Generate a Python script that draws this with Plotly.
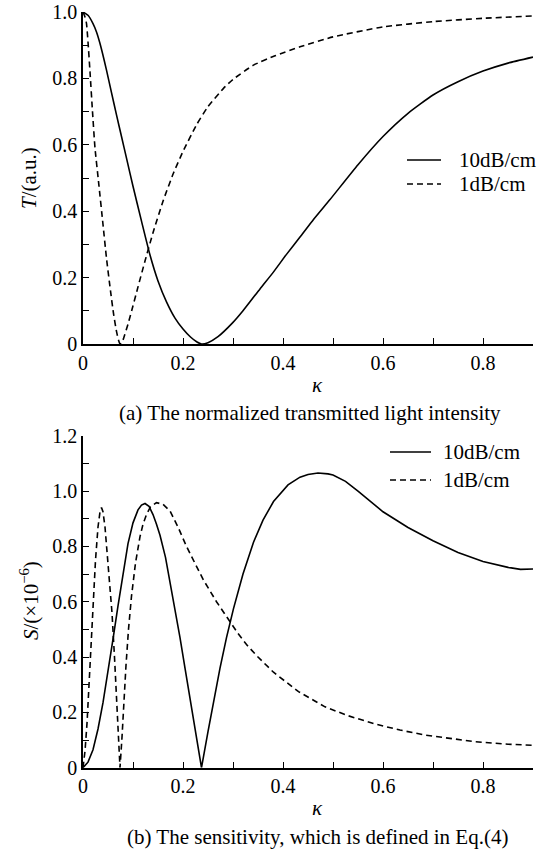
import plotly.graph_objects as go

# ---- data ----
kT_solid = [0, 0.01, 0.02, 0.027, 0.034, 0.047, 0.057, 0.067, 0.077, 0.087, 0.1, 0.117, 0.134, 0.15, 0.167, 0.184,
            0.2, 0.215, 0.228, 0.237, 0.25, 0.27, 0.3, 0.32, 0.354, 0.38, 0.407, 0.434, 0.461, 0.494, 0.55, 0.6,
            0.65, 0.7, 0.75, 0.8, 0.85, 0.9]
T_solid = [1.0, 0.99, 0.965, 0.94, 0.905, 0.825, 0.757, 0.69, 0.625, 0.56, 0.475, 0.37, 0.268, 0.19, 0.127, 0.078,
           0.045, 0.021, 0.006, 0.0, 0.004, 0.022, 0.065, 0.1, 0.166, 0.215, 0.27, 0.322, 0.375, 0.435, 0.54, 0.625,
           0.695, 0.75, 0.79, 0.822, 0.846, 0.864]

kT_dash = [0, 0.004, 0.007, 0.01, 0.014, 0.019, 0.024, 0.031, 0.04, 0.047, 0.055, 0.061, 0.067, 0.071, 0.074,
           0.077, 0.08, 0.09, 0.1, 0.11, 0.124, 0.14, 0.16, 0.181, 0.2, 0.227, 0.25, 0.281, 0.3, 0.341, 0.384,
           0.434, 0.5, 0.6, 0.7, 0.8, 0.9]
T_dash = [1.0, 0.985, 0.965, 0.91, 0.82, 0.70, 0.59, 0.49, 0.36, 0.258, 0.16, 0.092, 0.038, 0.012, 0.0,
          0.003, 0.012, 0.06, 0.115, 0.172, 0.25, 0.335, 0.43, 0.515, 0.58, 0.66, 0.715, 0.77, 0.797, 0.84, 0.868,
          0.895, 0.925, 0.955, 0.971, 0.981, 0.988]

kS_solid = [0, 0.01, 0.02, 0.03, 0.04, 0.05, 0.06, 0.07, 0.08, 0.09, 0.1, 0.11, 0.117, 0.124, 0.132, 0.14, 0.147,
            0.154, 0.165, 0.175, 0.185, 0.194, 0.204, 0.214, 0.225, 0.237, 0.25, 0.261, 0.274, 0.287, 0.301, 0.32,
            0.341, 0.36, 0.381, 0.41, 0.434, 0.45, 0.47, 0.49, 0.5, 0.525, 0.55, 0.6, 0.65, 0.7, 0.75, 0.8, 0.85,
            0.875, 0.9]
S_solid = [0, 0.02, 0.065, 0.14, 0.235, 0.345, 0.465, 0.585, 0.705, 0.81, 0.885, 0.932, 0.949, 0.955, 0.945, 0.915,
           0.88, 0.84, 0.76, 0.665, 0.565, 0.47, 0.36, 0.25, 0.13, 0.0, 0.13, 0.24, 0.36, 0.47, 0.575, 0.7,
           0.815, 0.895, 0.962, 1.022, 1.05, 1.06, 1.065, 1.062, 1.058, 1.035, 1.0, 0.925, 0.868, 0.82, 0.778, 0.745,
           0.724, 0.717, 0.718]

kS_dash = [0, 0.004, 0.008, 0.012, 0.016, 0.02, 0.025, 0.03, 0.034, 0.037, 0.04, 0.044, 0.048, 0.053, 0.058,
           0.063, 0.068, 0.071, 0.074, 0.078, 0.081, 0.086, 0.091, 0.097, 0.105, 0.114, 0.12, 0.127, 0.135, 0.147,
           0.16, 0.174, 0.19, 0.207, 0.225, 0.241, 0.267, 0.287, 0.31, 0.327, 0.35, 0.381, 0.431, 0.484, 0.53,
           0.584, 0.634, 0.684, 0.734, 0.784, 0.85, 0.9]
S_dash = [0, 0.06, 0.16, 0.3, 0.45, 0.6, 0.75, 0.87, 0.925, 0.94, 0.925, 0.87, 0.79, 0.67, 0.56,
          0.4, 0.22, 0.12, 0.0, 0.11, 0.22, 0.37, 0.5, 0.62, 0.74, 0.835, 0.88, 0.915, 0.943, 0.958,
          0.952, 0.928, 0.87, 0.8, 0.735, 0.678, 0.6, 0.545, 0.485, 0.445, 0.4, 0.345, 0.275, 0.22, 0.188,
          0.158, 0.136, 0.118, 0.105, 0.094, 0.085, 0.081]

series_names = ["10dB/cm", "1dB/cm"]
x_ticks = [0, 0.2, 0.4, 0.6, 0.8]
x_ticktext = ["0", "0.2", "0.4", "0.6", "0.8"]
yT_ticks = [0, 0.2, 0.4, 0.6, 0.8, 1.0]
yT_ticktext = ["0", "0.2", "0.4", "0.6", "0.8", "1.0"]
yS_ticks = [0, 0.2, 0.4, 0.6, 0.8, 1.0, 1.2]
yS_ticktext = ["0", "0.2", "0.4", "0.6", "0.8", "1.0", "1.2"]

W, H = 550, 854
FONT = "Liberation Serif"
LW = 1.6
DASH = "6px,4px"

fig = go.Figure()
fig.add_trace(go.Scatter(x=kT_solid, y=T_solid, mode="lines", name=series_names[0],
                         line=dict(color="black", width=LW, shape="spline", smoothing=0.5),
                         xaxis="x", yaxis="y"))
fig.add_trace(go.Scatter(x=kT_dash, y=T_dash, mode="lines", name=series_names[1],
                         line=dict(color="black", width=LW, dash=DASH, shape="spline", smoothing=0.5),
                         xaxis="x", yaxis="y"))
fig.add_trace(go.Scatter(x=kS_solid, y=S_solid, mode="lines", name=series_names[0],
                         line=dict(color="black", width=LW),
                         xaxis="x2", yaxis="y2"))
fig.add_trace(go.Scatter(x=kS_dash, y=S_dash, mode="lines", name=series_names[1],
                         line=dict(color="black", width=LW, dash=DASH),
                         xaxis="x2", yaxis="y2"))


def px_x(p):
    return p / W


def px_y(p):
    return 1 - p / H


axis_common = dict(showline=True, linecolor="black", linewidth=1.5, ticks="inside", ticklen=6,
                   tickwidth=1.3, tickcolor="black", showgrid=False, zeroline=False, automargin=False,
                   tickfont=dict(family=FONT, size=20, color="black"))
minor = dict(ticks="inside", ticklen=6, tickwidth=1.3, tickcolor="black", dtick=0.1, tick0=0, showgrid=False)

xdom = [px_x(83), px_x(533)]
fig.update_layout(
    width=W, height=H, margin=dict(l=0, r=0, t=0, b=0, autoexpand=False),
    paper_bgcolor="white", plot_bgcolor="white", showlegend=False,
    font=dict(family=FONT, size=21, color="black"),
    xaxis=dict(domain=xdom, range=[0, 0.9], anchor="y", tickvals=x_ticks, ticktext=x_ticktext,
               minor=minor, **axis_common),
    yaxis=dict(domain=[px_y(344), px_y(12)], range=[0, 1.0], anchor="x", tickvals=yT_ticks,
               ticktext=yT_ticktext, minor=minor, **axis_common),
    xaxis2=dict(domain=xdom, range=[0, 0.9], anchor="y2", tickvals=x_ticks, ticktext=x_ticktext,
                minor=minor, **axis_common),
    yaxis2=dict(domain=[px_y(767.7), px_y(435.7)], range=[0, 1.2], anchor="x2", tickvals=yS_ticks,
                ticktext=yS_ticktext, minor=minor, **axis_common),
)

# legend keys (drawn in paper coordinates)
legend_rows = [
    # (line x0, line x1, y, dash, label, text x)
    (407, 441, 160, "solid", series_names[0], 457),
    (407, 441, 184, "dash", series_names[1], 457),
    (390, 431, 452, "solid", series_names[0], 441),
    (390, 431, 480, "dash", series_names[1], 441),
]
shapes = []
ann = []
for x0, x1, yy, dsh, lab, tx in legend_rows:
    shapes.append(dict(type="line", xref="paper", yref="paper", x0=px_x(x0), x1=px_x(x1), y0=px_y(yy),
                       y1=px_y(yy), line=dict(color="black", width=LW, dash=DASH if dsh == "dash" else "solid")))
    ann.append(dict(text=lab, x=px_x(tx), y=px_y(yy), xref="paper", yref="paper", showarrow=False,
                    font=dict(family=FONT, size=21), xanchor="left", yanchor="middle"))

ann += [
    dict(text="<i>κ</i>", x=px_x(317), y=px_y(385), xref="paper", yref="paper", showarrow=False,
         font=dict(family=FONT, size=21), xanchor="center", yanchor="middle"),
    dict(text="<i>κ</i>", x=px_x(317), y=px_y(808), xref="paper", yref="paper", showarrow=False,
         font=dict(family=FONT, size=21), xanchor="center", yanchor="middle"),
    dict(text="(a) The normalized transmitted light intensity", x=px_x(310), y=px_y(413), xref="paper",
         yref="paper", showarrow=False, font=dict(family=FONT, size=21), xanchor="center", yanchor="middle"),
    dict(text="(b) The sensitivity, which is defined in Eq.(4)", x=px_x(317), y=px_y(837), xref="paper",
         yref="paper", showarrow=False, font=dict(family=FONT, size=21), xanchor="center", yanchor="middle"),
    dict(text="<i>T</i>/(a.u.)", x=px_x(29), y=px_y(178), xref="paper", yref="paper", showarrow=False,
         textangle=-90, font=dict(family=FONT, size=21), xanchor="center", yanchor="middle"),
    dict(text="<i>S</i>/(×10<sup>−6</sup>)", x=px_x(29), y=px_y(601), xref="paper", yref="paper",
         showarrow=False, textangle=-90, font=dict(family=FONT, size=21), xanchor="center", yanchor="middle"),
]
fig.update_layout(annotations=ann, shapes=shapes)

fig.write_html("out.html", config={"displayModeBar": False},
               post_script="document.body.style.margin='0px';document.body.style.overflow='hidden';")
